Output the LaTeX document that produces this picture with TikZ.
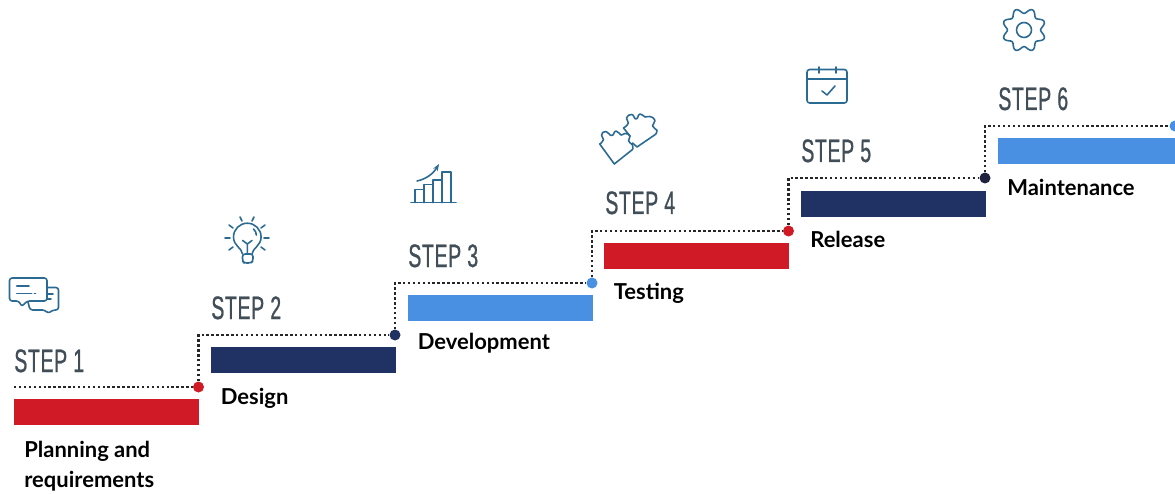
\documentclass[tikz,border=0pt]{standalone}
\usepackage{fontspec}
\setmainfont{Lato}
\newfontfamily\stepfont[FakeStretch=0.6,LetterSpace=2,FakeBold=0.7]{Liberation Sans}
\usetikzlibrary{calc,arrows.meta}
\definecolor{planred}{HTML}{D01A25}
\definecolor{navy}{HTML}{1F3263}
\definecolor{sky}{HTML}{4A90E2}
\definecolor{ink}{HTML}{1F2340}
\definecolor{slate}{HTML}{414E58}
\definecolor{iconblue}{HTML}{2B6A93}
\tikzset{
  stepbar/.style={minimum width=185\pxu, minimum height=26\pxu, inner sep=0pt, anchor=north west, outer sep=0pt},
  dotline/.style={draw=black!85, line width=1.4pt, dash pattern=on 1.4pt off 1.4pt},
  stepdot/.style={circle, inner sep=0pt, minimum size=11\pxu},
  steplab/.style={anchor=base west, inner sep=0pt, text=slate, font=\stepfont\fontsize{18.5}{20}\selectfont},
  desc/.style={anchor=base west, inner sep=0pt, text=black, align=left, font=\fontsize{12.5}{17}\selectfont\bfseries},
  icon/.style={draw=iconblue, line width=0.9pt, line cap=round, line join=round},
}
\def\pxu{*0.02cm}
\begin{document}
\begin{tikzpicture}[x=0.02cm,y=-0.02cm]
  \useasboundingbox (0,0) rectangle (1175,493);
  % bars
  \node[stepbar, fill=planred] (bar1) at (14,399) {};
  \node[stepbar, fill=navy] (bar2) at (211,347) {};
  \node[stepbar, fill=sky] (bar3) at (408,295) {};
  \node[stepbar, fill=planred] (bar4) at (604,243) {};
  \node[stepbar, fill=navy] (bar5) at (801,190.5) {};
  \node[stepbar, fill=sky] (bar6) at (998,138) {};
  % dots
  \coordinate (start) at (14,387);
  \node[stepdot, fill=planred] (dot1) at (198.5,387) {};
  \node[stepdot, fill=navy] (dot2) at (395,335) {};
  \node[stepdot, fill=sky] (dot3) at (592,283) {};
  \node[stepdot, fill=planred] (dot4) at (788.5,231) {};
  \node[stepdot, fill=ink] (dot5) at (985,178) {};
  \node[stepdot, fill=sky] (dot6) at (1175,126) {};
  % dotted stairs
  \draw[dotline] (start) -- (dot1);
  \draw[dotline] (dot1) |- (dot2);
  \draw[dotline] (dot2) |- (dot3);
  \draw[dotline] (dot3) |- (dot4);
  \draw[dotline] (dot4) |- (dot5);
  \draw[dotline] (dot5) |- (dot6);
  % step titles
  \node[steplab] (step1) at (14,372) {STEP 1};
  \node[steplab] (step2) at (211,319) {STEP 2};
  \node[steplab] (step3) at (408,267) {STEP 3};
  \node[steplab] (step4) at (605,214) {STEP 4};
  \node[steplab] (step5) at (801,162) {STEP 5};
  \node[steplab] (step6) at (998,110) {STEP 6};
  % descriptions
  \node[desc] (plan) at (24,487) {Planning and\\requirements};
  \node[desc] (design) at (220.5,404) {Design};
  \node[desc] (devel) at (417.5,349) {Development};
  \node[desc] (test) at (613.5,299) {Testing};
  \node[desc] (release) at (810,247) {Release};
  \node[desc] (maint) at (1007,195) {Maintenance};
  % chat icon
  \draw[icon, rounded corners=1.5pt] (47,301) -- (47,278) -- (9.5,278) -- (9.5,301) -- (19,301) -- (21.7,306.7) -- (27,301) -- cycle;
  \draw[icon, rounded corners=1.5pt] (47,287.5) -- (58.5,287.5) -- (58.5,310) -- (53,310) -- (48,313.5) -- (45,310) -- (30,310) -- (28,302);
  \draw[icon] (16.7,286) -- (29,286) (16.7,293.7) -- (31.7,293.7) (34.3,293.7) -- (35.7,293.7);
  \draw[icon] (47,294) -- (53,294) (47,299) -- (51,299);
  % bulb icon
  \draw[icon] (242.5,254) .. controls (242,248) and (233.5,246) .. (233.5,237) arc[start angle=180, end angle=360, radius=13.8] .. controls (261,246) and (252.5,248) .. (252,254);
  \draw[icon, rounded corners=1.5pt] (242.5,254) -- (242.5,261) -- (244,263) -- (251,263) -- (253,261) -- (253,254) -- cycle;
  \draw[icon] (247.3,254) -- (247.3,244) (242.7,240.5) -- (247.3,244) -- (252,240.5);
  \draw[icon] (253.5,229) arc[start angle=-50, end angle=0, radius=8];
  \draw[icon] (225,238) -- (230,238) (264,238) -- (269,238) (229,225) -- (233,228) (265,225) -- (261,228)
    (240,217) -- (242,221) (254,217) -- (252,221) (229,250) -- (233,247) (265,250) -- (261,247);
  % chart icon
  \draw[icon] (411,202.5) -- (456,202.5);
  \draw[icon] (415,202.5) -- (415,189.5) -- (424,189.5) -- (424,202.5);
  \draw[icon] (424,202.5) -- (424,184.5) -- (433,184.5) -- (433,202.5);
  \draw[icon] (433,202.5) -- (433,180) -- (442,180) -- (442,202.5);
  \draw[icon] (442,202.5) -- (442,172) -- (451,172) -- (451,202.5);
  \draw[icon, -{Stealth[length=4pt]}] (417,181) .. controls (426,179) and (433,174) .. (439,164);
  % puzzle icon
  \draw[icon] plot[smooth, tension=1] coordinates {(599.7,144) (603.5,139.7) (601.5,135) (606,131.5) (611.7,135.5) (616,131) (621,135) (625,133.5) (630,136) (628.5,141) (632.5,145) (632.5,149.5)} -- (614.3,164) -- cycle;
  \draw[icon] plot[smooth, tension=1] coordinates {(623.5,128) (628.3,123) (626.5,118) (631.7,114.5) (636,119) (640,114) (645,117) (650,116.5) (655,120.5) (652.5,126) (657,130.5) (655,134.7)} -- (637,147) -- (632.5,143);
  \draw[icon] (623.5,128) -- (630,136);
  % calendar icon
  \draw[icon, rounded corners=1.5pt] (807,69.5) rectangle (847,103);
  \draw[icon] (807,79) -- (847,79) (819,67) -- (819,73) (836,67) -- (836,73);
  \draw[icon] (822,91) -- (827,95) -- (835,86);
  % gear icon
  \draw[icon] plot[domain=0:360, samples=145, smooth] ({1024+(19.2+2.6*cos(8*(\x-22.5)))*cos(\x)},{30+(19.2+2.6*cos(8*(\x-22.5)))*sin(\x)}) -- cycle;
  \draw[icon] (1024,30) circle (7.5);
\end{tikzpicture}
\end{document}
